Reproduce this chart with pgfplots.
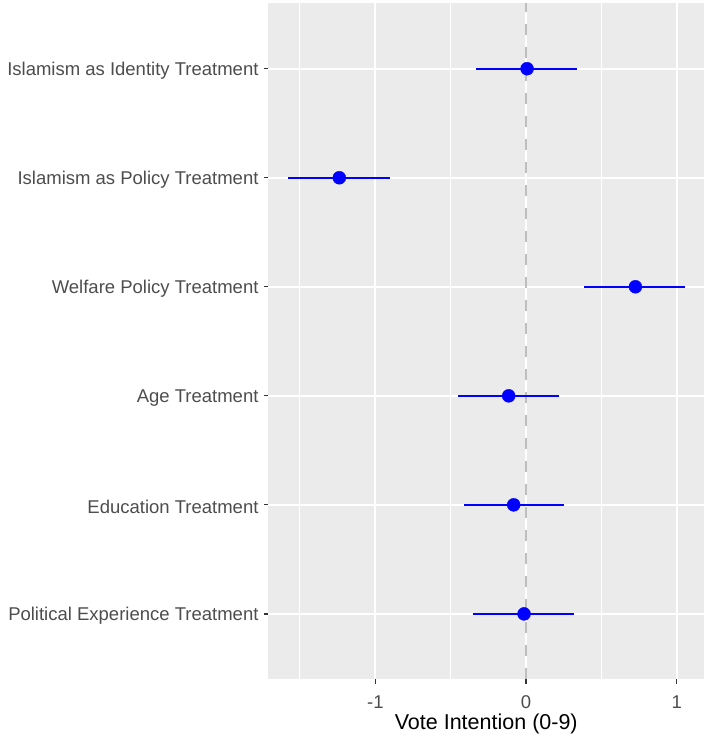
\documentclass[border=0pt]{standalone}
\usepackage{pgfplots}
\pgfplotsset{compat=1.18}
\usepackage{pgfplotstable}
\usepackage{fontspec}
\setmainfont{Liberation Sans}
\definecolor{panelgray}{HTML}{EBEBEB}
\definecolor{gray30}{HTML}{4D4D4D}
\definecolor{gray20}{HTML}{333333}
\definecolor{vgray}{HTML}{BEBEBE}
\pgfplotstableread{
pos est lo hi
6 0.007 -0.334 0.338
5 -1.239 -1.577 -0.905
4 0.726 0.383 1.057
3 -0.115 -0.453 0.221
2 -0.082 -0.413 0.250
1 -0.013 -0.354 0.320
}\coef
\begin{document}
\begin{tikzpicture}
\path[use as bounding box] (-268.5pt,-60.7pt) rectangle (435.5pt,679.3pt);
\begin{axis}[
  at={(0pt,0pt)}, anchor=south west,
  scale only axis,
  width=435.5pt, height=676pt,
  xmin=-1.709, xmax=1.181,
  ymin=0.4, ymax=6.6,
  axis background/.style={fill=panelgray},
  axis line style={draw=none},
  xtick={-1,0,1},
  xticklabels={{-1},{0},{1}},
  minor xtick={-1.5,-0.5,0.5},
  ytick={1,2,3,4,5,6},
  yticklabels={Political Experience Treatment, Education Treatment, Age Treatment, Welfare Policy Treatment, Islamism as Policy Treatment, Islamism as Identity Treatment},
  tick pos=left,
  tick align=outside,
  major tick length=4.5pt,
  minor tick length=0pt,
  tick style={color=gray20, line width=1.3pt},
  xmajorgrids, ymajorgrids, xminorgrids,
  major grid style={white, line width=2pt},
  minor grid style={white, line width=1pt},
  tick label style={font=\fontsize{18.5}{22}\selectfont, text=gray30},
  yticklabel style={xshift=-2pt, yshift=-2pt},
  xticklabel style={yshift=-8pt},
  /pgf/number format/assume math mode=true,
  xlabel={Vote Intention (0-9)},
  xlabel style={font=\fontsize{21.5}{26}\selectfont, text=black, yshift=1pt},
  clip=false,
]
\addplot[vgray, line width=2.6pt, dash pattern=on 11pt off 12pt] coordinates {(0,0.4) (0,6.6)};
\addplot[draw=none, mark=none,
  error bars/.cd, x dir=both, x explicit,
  error mark=none,
  error bar style={color=blue, line width=2pt}]
  table[x=est, y=pos,
        x error plus expr=\thisrow{hi}-\thisrow{est},
        x error minus expr=\thisrow{est}-\thisrow{lo}] {\coef};
\addplot[only marks, mark=*, mark size=6.5pt, color=blue, fill=blue] table[x=est, y=pos] {\coef};
\end{axis}
\end{tikzpicture}
\end{document}
